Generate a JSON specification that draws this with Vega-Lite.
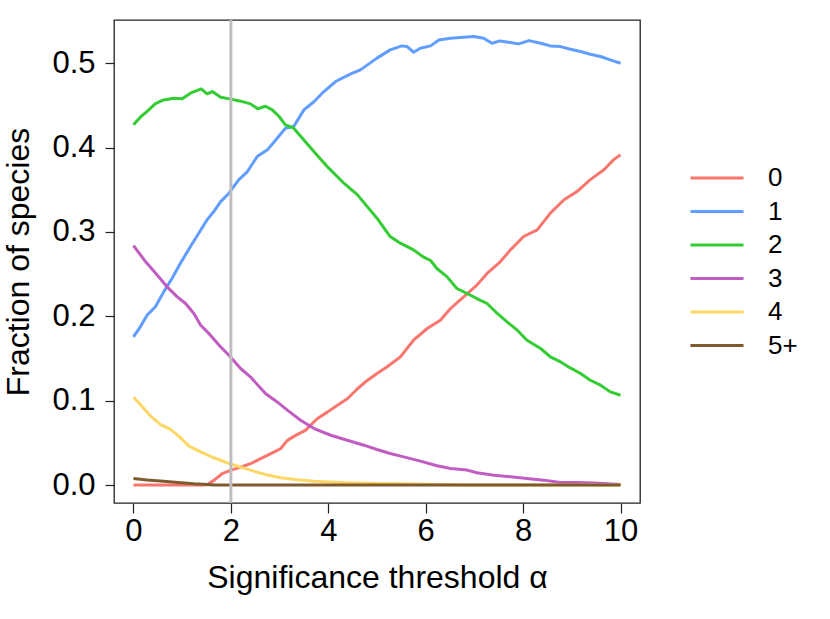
{
  "$schema": "https://vega.github.io/schema/vega-lite/v6.json",
  "width": 526,
  "height": 483,
  "autosize": {"type": "none"},
  "padding": {"left": 114, "top": 20, "right": 190, "bottom": 116},
  "background": "white",
  "config": {
    "font": "Liberation Sans",
    "view": {"stroke": "#222222", "strokeWidth": 1.3},
    "axis": {"grid": false, "domain": false, "tickColor": "#222222", "tickWidth": 1.2, "labelColor": "black", "titleColor": "black", "labelFont": "Liberation Sans", "titleFont": "Liberation Sans", "titleFontWeight": "normal"}
  },
  "datasets": {
    "curves": [
      {"a":0,"g":"0","f":0},{"a":0.5,"g":"0","f":0},{"a":1.0,"g":"0","f":0},{"a":1.4,"g":"0","f":0},{"a":1.51,"g":"0","f":0.0005},{"a":1.65,"g":"0","f":0.0056},{"a":1.82,"g":"0","f":0.0135},{"a":1.99,"g":"0","f":0.0174},{"a":2.2,"g":"0","f":0.0214},{"a":2.4,"g":"0","f":0.0253},{"a":2.61,"g":"0","f":0.0313},{"a":2.82,"g":"0","f":0.0372},{"a":3.02,"g":"0","f":0.0431},{"a":3.16,"g":"0","f":0.053},{"a":3.33,"g":"0","f":0.0589},{"a":3.53,"g":"0","f":0.0648},{"a":3.77,"g":"0","f":0.0786},{"a":3.98,"g":"0","f":0.0865},{"a":4.18,"g":"0","f":0.0944},{"a":4.39,"g":"0","f":0.1023},{"a":4.6,"g":"0","f":0.1142},{"a":4.8,"g":"0","f":0.124},{"a":5.0,"g":"0","f":0.1323},{"a":5.21,"g":"0","f":0.1402},{"a":5.48,"g":"0","f":0.152},{"a":5.75,"g":"0","f":0.1717},{"a":6.03,"g":"0","f":0.1856},{"a":6.3,"g":"0","f":0.1955},{"a":6.51,"g":"0","f":0.2093},{"a":6.78,"g":"0","f":0.2231},{"a":7.05,"g":"0","f":0.237},{"a":7.26,"g":"0","f":0.2508},{"a":7.53,"g":"0","f":0.2646},{"a":7.74,"g":"0","f":0.2788},{"a":8.01,"g":"0","f":0.2946},{"a":8.29,"g":"0","f":0.3025},{"a":8.56,"g":"0","f":0.3224},{"a":8.84,"g":"0","f":0.3382},{"a":9.11,"g":"0","f":0.3481},{"a":9.38,"g":"0","f":0.362},{"a":9.66,"g":"0","f":0.3738},{"a":9.86,"g":"0","f":0.3857},{"a":10,"g":"0","f":0.3916},
      {"a":0,"g":"1","f":0.1757},{"a":0.14,"g":"1","f":0.1876},{"a":0.28,"g":"1","f":0.2014},{"a":0.45,"g":"1","f":0.2113},{"a":0.62,"g":"1","f":0.229},{"a":0.79,"g":"1","f":0.2448},{"a":0.97,"g":"1","f":0.2636},{"a":1.17,"g":"1","f":0.2827},{"a":1.34,"g":"1","f":0.2985},{"a":1.51,"g":"1","f":0.3143},{"a":1.65,"g":"1","f":0.3242},{"a":1.79,"g":"1","f":0.336},{"a":1.96,"g":"1","f":0.3459},{"a":2.16,"g":"1","f":0.3617},{"a":2.34,"g":"1","f":0.3716},{"a":2.54,"g":"1","f":0.3894},{"a":2.75,"g":"1","f":0.3973},{"a":2.95,"g":"1","f":0.4111},{"a":3.12,"g":"1","f":0.423},{"a":3.29,"g":"1","f":0.4249},{"a":3.5,"g":"1","f":0.4447},{"a":3.71,"g":"1","f":0.4546},{"a":3.91,"g":"1","f":0.4664},{"a":4.15,"g":"1","f":0.4783},{"a":4.46,"g":"1","f":0.4874},{"a":4.66,"g":"1","f":0.4921},{"a":5.0,"g":"1","f":0.506},{"a":5.27,"g":"1","f":0.5158},{"a":5.51,"g":"1","f":0.5205},{"a":5.62,"g":"1","f":0.5197},{"a":5.75,"g":"1","f":0.513},{"a":5.89,"g":"1","f":0.5178},{"a":6.1,"g":"1","f":0.5205},{"a":6.27,"g":"1","f":0.5276},{"a":6.51,"g":"1","f":0.5296},{"a":6.78,"g":"1","f":0.5308},{"a":6.99,"g":"1","f":0.5316},{"a":7.19,"g":"1","f":0.5296},{"a":7.36,"g":"1","f":0.5237},{"a":7.53,"g":"1","f":0.5264},{"a":7.74,"g":"1","f":0.5245},{"a":7.91,"g":"1","f":0.5229},{"a":8.12,"g":"1","f":0.5268},{"a":8.36,"g":"1","f":0.5237},{"a":8.56,"g":"1","f":0.5205},{"a":8.77,"g":"1","f":0.5197},{"a":8.97,"g":"1","f":0.5166},{"a":9.18,"g":"1","f":0.5138},{"a":9.38,"g":"1","f":0.5106},{"a":9.59,"g":"1","f":0.5079},{"a":9.79,"g":"1","f":0.5039},{"a":10,"g":"1","f":0.4999},
      {"a":0,"g":"2","f":0.427},{"a":0.14,"g":"2","f":0.436},{"a":0.28,"g":"2","f":0.443},{"a":0.45,"g":"2","f":0.452},{"a":0.62,"g":"2","f":0.4565},{"a":0.83,"g":"2","f":0.4585},{"a":1.0,"g":"2","f":0.458},{"a":1.17,"g":"2","f":0.4645},{"a":1.39,"g":"2","f":0.4695},{"a":1.51,"g":"2","f":0.4636},{"a":1.62,"g":"2","f":0.4664},{"a":1.79,"g":"2","f":0.4597},{"a":1.97,"g":"2","f":0.4577},{"a":2.2,"g":"2","f":0.455},{"a":2.4,"g":"2","f":0.4518},{"a":2.55,"g":"2","f":0.446},{"a":2.71,"g":"2","f":0.449},{"a":2.85,"g":"2","f":0.4447},{"a":2.99,"g":"2","f":0.4368},{"a":3.12,"g":"2","f":0.427},{"a":3.29,"g":"2","f":0.423},{"a":3.53,"g":"2","f":0.407},{"a":3.77,"g":"2","f":0.391},{"a":4.01,"g":"2","f":0.3756},{"a":4.32,"g":"2","f":0.3578},{"a":4.6,"g":"2","f":0.344},{"a":4.8,"g":"2","f":0.33},{"a":5.0,"g":"2","f":0.3163},{"a":5.27,"g":"2","f":0.2946},{"a":5.48,"g":"2","f":0.2867},{"a":5.75,"g":"2","f":0.2788},{"a":5.96,"g":"2","f":0.2701},{"a":6.1,"g":"2","f":0.2662},{"a":6.23,"g":"2","f":0.2567},{"a":6.44,"g":"2","f":0.2468},{"a":6.64,"g":"2","f":0.233},{"a":6.85,"g":"2","f":0.2271},{"a":7.05,"g":"2","f":0.2211},{"a":7.26,"g":"2","f":0.2152},{"a":7.47,"g":"2","f":0.2034},{"a":7.67,"g":"2","f":0.1935},{"a":7.88,"g":"2","f":0.1836},{"a":8.08,"g":"2","f":0.1717},{"a":8.36,"g":"2","f":0.1619},{"a":8.56,"g":"2","f":0.152},{"a":8.77,"g":"2","f":0.146},{"a":8.97,"g":"2","f":0.1389},{"a":9.18,"g":"2","f":0.1322},{"a":9.38,"g":"2","f":0.1243},{"a":9.59,"g":"2","f":0.1184},{"a":9.79,"g":"2","f":0.1105},{"a":10,"g":"2","f":0.1065},
      {"a":0,"g":"3","f":0.2839},{"a":0.25,"g":"3","f":0.2646},{"a":0.49,"g":"3","f":0.2488},{"a":0.69,"g":"3","f":0.235},{"a":0.9,"g":"3","f":0.2231},{"a":1.07,"g":"3","f":0.2152},{"a":1.24,"g":"3","f":0.2034},{"a":1.38,"g":"3","f":0.1895},{"a":1.58,"g":"3","f":0.1777},{"a":1.79,"g":"3","f":0.1638},{"a":1.96,"g":"3","f":0.1539},{"a":2.2,"g":"3","f":0.1382},{"a":2.4,"g":"3","f":0.1283},{"a":2.71,"g":"3","f":0.1085},{"a":2.95,"g":"3","f":0.0986},{"a":3.16,"g":"3","f":0.0888},{"a":3.43,"g":"3","f":0.0769},{"a":3.71,"g":"3","f":0.067},{"a":4.05,"g":"3","f":0.0591},{"a":4.39,"g":"3","f":0.0532},{"a":4.73,"g":"3","f":0.0473},{"a":5.0,"g":"3","f":0.0422},{"a":5.27,"g":"3","f":0.0375},{"a":5.55,"g":"3","f":0.0335},{"a":5.89,"g":"3","f":0.0284},{"a":6.23,"g":"3","f":0.0229},{"a":6.51,"g":"3","f":0.0197},{"a":6.85,"g":"3","f":0.0178},{"a":7.05,"g":"3","f":0.0146},{"a":7.4,"g":"3","f":0.0118},{"a":7.74,"g":"3","f":0.0099},{"a":8.08,"g":"3","f":0.0079},{"a":8.42,"g":"3","f":0.0059},{"a":8.77,"g":"3","f":0.0032},{"a":9.11,"g":"3","f":0.0032},{"a":9.45,"g":"3","f":0.0024},{"a":10,"g":"3","f":0.0008},
      {"a":0,"g":"4","f":0.1042},{"a":0.14,"g":"4","f":0.0956},{"a":0.35,"g":"4","f":0.0818},{"a":0.55,"g":"4","f":0.0719},{"a":0.76,"g":"4","f":0.066},{"a":0.93,"g":"4","f":0.0581},{"a":1.14,"g":"4","f":0.0462},{"a":1.38,"g":"4","f":0.0395},{"a":1.65,"g":"4","f":0.0324},{"a":1.92,"g":"4","f":0.0265},{"a":2.2,"g":"4","f":0.0213},{"a":2.47,"g":"4","f":0.0166},{"a":2.75,"g":"4","f":0.0119},{"a":3.02,"g":"4","f":0.0087},{"a":3.36,"g":"4","f":0.0063},{"a":3.71,"g":"4","f":0.0047},{"a":4.05,"g":"4","f":0.0036},{"a":4.39,"g":"4","f":0.0028},{"a":5.0,"g":"4","f":0.002},{"a":5.5,"g":"4","f":0.0015},{"a":6.0,"g":"4","f":0.001},{"a":6.5,"g":"4","f":0.0003},{"a":7,"g":"4","f":0},{"a":8,"g":"4","f":0},{"a":9,"g":"4","f":0},{"a":10,"g":"4","f":0},
      {"a":0,"g":"5+","f":0.0079},{"a":0.28,"g":"5+","f":0.006},{"a":0.62,"g":"5+","f":0.0047},{"a":0.97,"g":"5+","f":0.0028},{"a":1.24,"g":"5+","f":0.0016},{"a":1.51,"g":"5+","f":0.0008},{"a":1.65,"g":"5+","f":0},{"a":3,"g":"5+","f":0},{"a":5,"g":"5+","f":0},{"a":7,"g":"5+","f":0},{"a":10,"g":"5+","f":0}
    ],
    "marker": [{"a": 2}]
  },
  "layer": [
    {
      "data": {"name": "curves"},
      "mark": {"type": "line", "strokeWidth": 3, "strokeJoin": "round", "strokeCap": "butt"},
      "encoding": {
        "x": {"field": "a", "type": "quantitative", "scale": {"domain": [-0.4, 10.4], "nice": false, "zero": false},
              "axis": {"values": [0, 2, 4, 6, 8, 10], "title": "Significance threshold α", "labelFontSize": 31, "titleFontSize": 32, "tickSize": 10, "labelPadding": 3, "titlePadding": 16, "labelFlush": false}},
        "y": {"field": "f", "type": "quantitative", "scale": {"domain": [-0.0212, 0.5512], "nice": false, "zero": false},
              "axis": {"values": [0, 0.1, 0.2, 0.3, 0.4, 0.5], "format": ".1f", "title": "Fraction of species", "labelFontSize": 31, "titleFontSize": 32, "tickSize": 9, "labelPadding": 10, "titlePadding": 16, "labelFlush": false}},
        "color": {"field": "g", "type": "nominal",
                  "scale": {"domain": ["0", "1", "2", "3", "4", "5+"], "range": ["#F8766D", "#619CFF", "#33CC33", "#C05CC2", "#FDD766", "#7F5A2E"]},
                  "legend": {"title": null, "orient": "none", "legendX": 590, "legendY": 145, "symbolType": "M-4,0H4", "symbolSize": 176, "symbolStrokeWidth": 3, "symbolFillColor": "transparent", "labelFontSize": 26, "labelOffset": 38, "padding": 0, "rowPadding": 7.5, "labelColor": "black", "labelFont": "Liberation Sans"}},
        "order": {"field": "a", "type": "quantitative"}
      }
    },
    {
      "data": {"name": "marker"},
      "mark": {"type": "rule", "color": "#BEBEBE", "strokeWidth": 3},
      "encoding": {"x": {"field": "a", "type": "quantitative"}}
    }
  ]
}
